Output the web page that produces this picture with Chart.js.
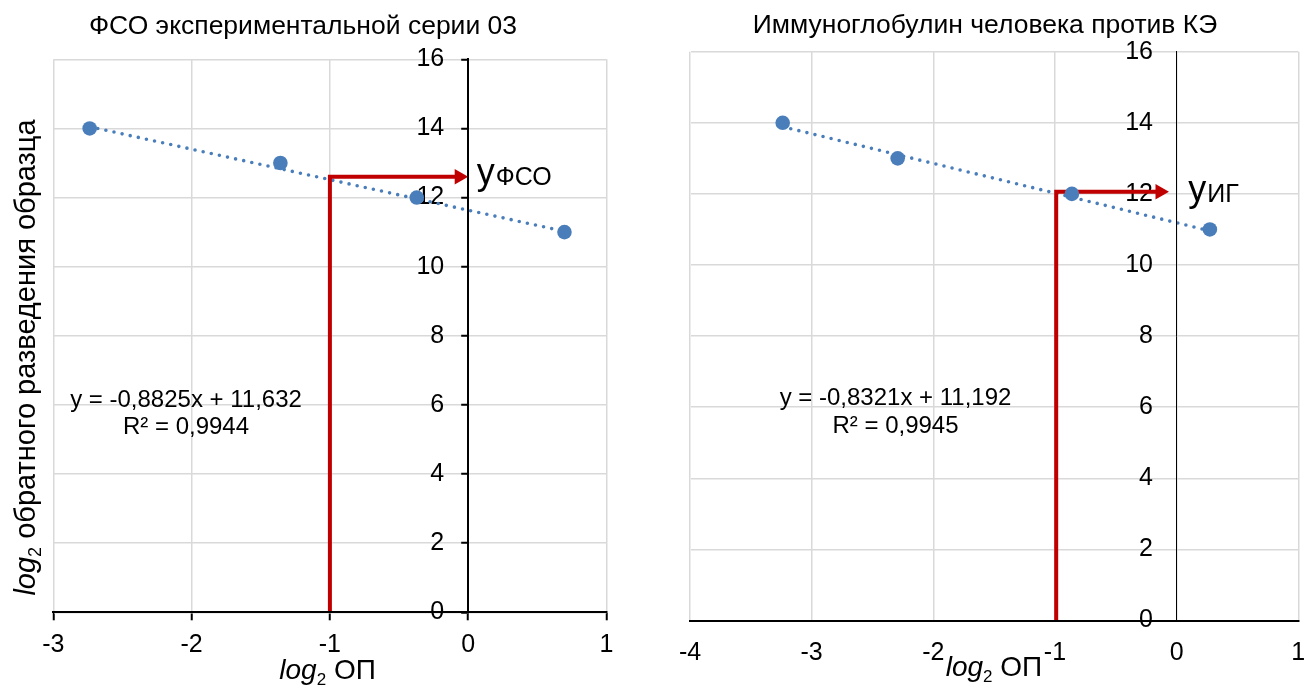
<!DOCTYPE html>
<html>
<head>
<meta charset="utf-8">
<script src="https://cdn.jsdelivr.net/npm/chart.js@4"></script>
<style>
html,body{margin:0;padding:0;background:#fff;}
#wrap{position:relative;width:1315px;height:686px;overflow:hidden;}
.box{position:absolute;top:0;height:686px;}
canvas{display:block;}
</style>
</head>
<body>
<div id="wrap">
  <div class="box" style="left:0;width:657px"><canvas id="c1" width="657" height="686"></canvas></div>
  <div class="box" style="left:657px;width:658px"><canvas id="c2" width="658" height="686"></canvas></div>
</div>
<script>
const FONT = '"Liberation Sans", Arial, Helvetica, sans-serif';

// ---------- Left chart: ФСО экспериментальной серии 03 ----------
const fsoTitle = 'ФСО экспериментальной серии 03';
const fsoX = [-2.737, -1.358, -0.372, 0.696];
const fsoY = [14, 13, 12, 11];
const fsoTrendX = [-2.737, 0.696];
const fsoTrendY = [14.05, 11.02];
const fsoGuideX = [-1, -1, -0.065];
const fsoGuideY = [0, 12.6, 12.6];
const fsoEquation = ['y = -0,8825x + 11,632', 'R² = 0,9944'];
const fsoMarker = ['y', 'ФСО'];
const fsoXRange = [-3, 1];

// ---------- Right chart: Иммуноглобулин человека против КЭ ----------
const igTitle = 'Иммуноглобулин человека против КЭ';
const igX = [-3.238, -2.293, -0.861, 0.273];
const igY = [14, 13, 12, 11];
const igTrendX = [-3.238, 0.273];
const igTrendY = [13.89, 10.96];
const igGuideX = [-0.99, -0.99, -0.137];
const igGuideY = [0, 12.06, 12.06];
const igEquation = ['y = -0,8321x + 11,192', 'R² = 0,9945'];
const igMarker = ['y', 'ИГ'];
const igXRange = [-4, 1];

// ---------- shared ----------
const yRange = [0, 16];
const yStep = 2;
const xStep = 1;
const yCrossAt = 0;   // the value axis crosses the x axis at x = 0
const yAxisTitle = ['log', '2', ' обратного разведения образца'];
const xAxisTitle = ['log', '2', ' ОП'];

const BLUE = '#4A7EBB';
const RED = '#C00000';
const GRID = '#D9D9D9';

function pts(xs, ys) { return xs.map((x, i) => ({ x: x, y: ys[i] })); }

function drawLog(ctx, x, y, size, parts, align) {
  const sub = Math.round(size * 0.62);
  ctx.font = 'italic ' + size + 'px ' + FONT;
  const w1 = ctx.measureText(parts[0]).width;
  ctx.font = sub + 'px ' + FONT;
  const w2 = ctx.measureText(parts[1]).width;
  ctx.font = size + 'px ' + FONT;
  const w3 = ctx.measureText(parts[2]).width;
  const total = w1 + w2 + w3;
  const sx = align === 'center' ? x - total / 2 : x;
  ctx.textAlign = 'left';
  ctx.textBaseline = 'alphabetic';
  ctx.font = 'italic ' + size + 'px ' + FONT;
  ctx.fillText(parts[0], sx, y);
  ctx.font = sub + 'px ' + FONT;
  ctx.fillText(parts[1], sx + w1, y + size * 0.2);
  ctx.font = size + 'px ' + FONT;
  ctx.fillText(parts[2], sx + w1 + w2, y);
}

// Moves the value axis so that it crosses the x axis at x = yCrossAt
const crossPlugin = {
  id: 'cross',
  afterLayout(chart) {
    const ys = chart.scales.y;
    const px = chart.scales.x.getPixelForValue(yCrossAt);
    ys.left = 0;
    ys.right = px;
    ys.width = px;
  }
};

function textPlugin(t) {
  return {
    id: 'texts',
    afterDraw(chart) {
      const ctx = chart.ctx;
      ctx.save();
      ctx.fillStyle = '#000';
      ctx.font = t.titleSize + 'px ' + FONT;
      ctx.textAlign = 'center';
      ctx.textBaseline = 'alphabetic';
      ctx.fillText(t.title, t.titleX, t.titleY);
      ctx.font = '24px ' + FONT;
      ctx.fillText(t.eq[0], t.eqX, t.eqY1);
      ctx.fillText(t.eq[1], t.eqX, t.eqY2);
      ctx.textAlign = 'left';
      ctx.font = '36px ' + FONT;
      const wy = ctx.measureText(t.marker[0]).width;
      ctx.fillText(t.marker[0], t.markX, t.markY - 1);
      ctx.font = '25px ' + FONT;
      ctx.fillText(t.marker[1], t.markX + wy + 1, t.markY);
      drawLog(ctx, t.xtX, t.xtY, 28, xAxisTitle, 'left');
      if (t.ytitle) {
        ctx.save();
        ctx.translate(t.ytX, t.ytY);
        ctx.rotate(-Math.PI / 2);
        drawLog(ctx, 0, 0, 29, yAxisTitle, 'center');
        ctx.restore();
      }
      ctx.restore();
    }
  };
}

function buildChart(id, d) {
  return new Chart(document.getElementById(id), {
    type: 'scatter',
    data: {
      datasets: [
        {
          label: 'points',
          data: pts(d.x, d.y),
          pointRadius: 7.3,
          pointHoverRadius: 7.3,
          pointBackgroundColor: BLUE,
          pointBorderWidth: 0,
          showLine: false,
          order: 0
        },
        {
          label: 'guide',
          data: pts(d.gx, d.gy),
          showLine: true,
          borderColor: RED,
          borderWidth: 4,
          borderJoinStyle: 'miter',
          borderCapStyle: 'butt',
          pointRadius: [0, 0, 9],
          pointHoverRadius: [0, 0, 9],
          pointStyle: 'triangle',
          rotation: 90,
          pointBackgroundColor: RED,
          pointBorderWidth: 0,
          order: 1
        },
        {
          label: 'trend',
          data: pts(d.tx, d.ty),
          showLine: true,
          borderColor: BLUE,
          borderWidth: 3.6,
          borderDash: [0, 8.3],
          borderCapStyle: 'round',
          pointRadius: 0,
          pointHoverRadius: 0,
          order: 2
        }
      ]
    },
    options: {
      responsive: false,
      animation: false,
      events: [],
      layout: { padding: d.padding },
      plugins: { legend: { display: false }, tooltip: { enabled: false }, title: { display: false } },
      scales: {
        x: {
          type: 'linear',
          position: 'bottom',
          min: d.xr[0], max: d.xr[1],
          afterFit: (s) => { s.height = d.xHeight; s.paddingLeft = 0; s.paddingRight = 0; },
          ticks: {
            stepSize: xStep, autoSkip: false, maxRotation: 0,
            color: '#000', font: { family: FONT, size: 25 },
            padding: d.xPad
          },
          grid: {
            color: GRID, lineWidth: 1.5,
            drawTicks: d.xTicks, tickLength: d.xTicks ? 8 : 0, tickColor: '#000', tickWidth: 2
          },
          border: { color: '#000', width: 2, z: 1 }
        },
        y: {
          type: 'linear',
          position: 'left',
          min: yRange[0], max: yRange[1],
          afterFit: (s) => { s.width = 0; },
          ticks: {
            stepSize: yStep, autoSkip: false,
            color: '#000', font: { family: FONT, size: 25 },
            padding: d.yPad
          },
          grid: {
            color: GRID, lineWidth: 1.5,
            drawTicks: d.yTicks, tickLength: d.yTicks ? 7 : 0, tickColor: '#000', tickWidth: 2
          },
          border: { color: '#000', width: d.yBorder, z: 1 }
        }
      }
    },
    plugins: [crossPlugin, textPlugin(d.text)]
  });
}

buildChart('c1', {
  x: fsoX, y: fsoY, tx: fsoTrendX, ty: fsoTrendY, gx: fsoGuideX, gy: fsoGuideY,
  xr: fsoXRange,
  padding: { left: 53.3, right: 50.5, top: 59.3, bottom: 0 },
  xHeight: 73.7, xPad: 10, xTicks: true,
  yPad: 17, yTicks: true, yBorder: 2,
  text: {
    title: fsoTitle, titleSize: 26.5, titleX: 303, titleY: 34,
    eq: fsoEquation, eqX: 186, eqY1: 406.7, eqY2: 434.3,
    marker: fsoMarker, markX: 476.7, markY: 185,
    xtX: 279.3, xtY: 679.3,
    ytitle: true, ytX: 35, ytY: 357.5
  }
});

buildChart('c2', {
  x: igX, y: igY, tx: igTrendX, ty: igTrendY, gx: igGuideX, gy: igGuideY,
  xr: igXRange,
  padding: { left: 33, right: 16.7, top: 51.7, bottom: 0 },
  xHeight: 65.5, xPad: 17.5, xTicks: false,
  yPad: 23.7, yTicks: false, yBorder: 1,
  text: {
    title: igTitle, titleSize: 26.5, titleX: 328, titleY: 33.3,
    eq: igEquation, eqX: 238.5, eqY1: 405, eqY2: 433.3,
    marker: igMarker, markX: 531.3, markY: 201.7,
    xtX: 288.7, xtY: 676,
    ytitle: false
  }
});
</script>
</body>
</html>
